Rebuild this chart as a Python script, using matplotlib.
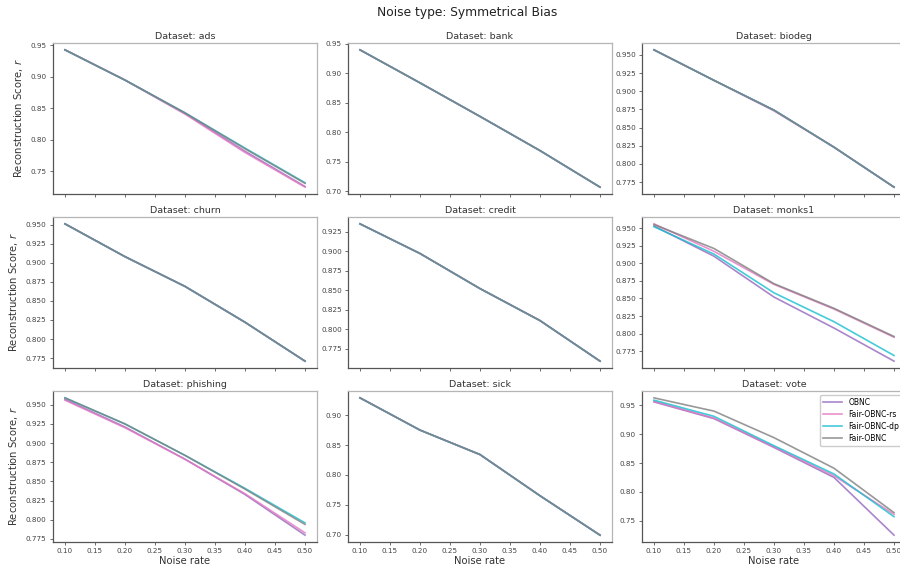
import numpy as np
import matplotlib.pyplot as plt

noise_rates = [0.1, 0.2, 0.3, 0.4, 0.5]
datasets = ['ads', 'bank', 'biodeg', 'churn', 'credit', 'monks1', 'phishing', 'sick', 'vote']
methods = ['OBNC', 'Fair-OBNC-rs', 'Fair-OBNC-dp', 'Fair-OBNC']
colors = ['tab:purple', 'tab:pink', 'tab:cyan', 'tab:gray']

obnc = {
    'ads':      [0.943, 0.895, 0.842, 0.782, 0.726],
    'bank':     [0.940, 0.884, 0.827, 0.769, 0.707],
    'biodeg':   [0.957, 0.915, 0.874, 0.823, 0.768],
    'churn':    [0.951, 0.908, 0.869, 0.822, 0.771],
    'credit':   [0.935, 0.897, 0.852, 0.811, 0.759],
    'monks1':   [0.953, 0.910, 0.852, 0.808, 0.761],
    'phishing': [0.957, 0.921, 0.879, 0.833, 0.780],
    'sick':     [0.929, 0.875, 0.834, 0.765, 0.699],
    'vote':     [0.956, 0.927, 0.877, 0.825, 0.725],
}
fair_obnc_rs = {
    'ads':      [0.943, 0.895, 0.841, 0.780, 0.725],
    'bank':     [0.940, 0.884, 0.827, 0.769, 0.707],
    'biodeg':   [0.957, 0.915, 0.873, 0.823, 0.768],
    'churn':    [0.951, 0.908, 0.869, 0.822, 0.771],
    'credit':   [0.935, 0.897, 0.852, 0.811, 0.759],
    'monks1':   [0.956, 0.917, 0.870, 0.835, 0.795],
    'phishing': [0.956, 0.920, 0.879, 0.834, 0.783],
    'sick':     [0.929, 0.875, 0.834, 0.765, 0.699],
    'vote':     [0.957, 0.928, 0.878, 0.828, 0.761],
}
fair_obnc_dp = {
    'ads':      [0.943, 0.895, 0.843, 0.787, 0.732],
    'bank':     [0.940, 0.884, 0.827, 0.769, 0.707],
    'biodeg':   [0.957, 0.915, 0.874, 0.823, 0.768],
    'churn':    [0.951, 0.908, 0.869, 0.822, 0.771],
    'credit':   [0.935, 0.897, 0.852, 0.811, 0.759],
    'monks1':   [0.952, 0.913, 0.858, 0.817, 0.769],
    'phishing': [0.959, 0.925, 0.884, 0.841, 0.796],
    'sick':     [0.929, 0.875, 0.834, 0.765, 0.699],
    'vote':     [0.959, 0.931, 0.880, 0.831, 0.757],
}
fair_obnc = {
    'ads':      [0.943, 0.895, 0.843, 0.786, 0.731],
    'bank':     [0.940, 0.884, 0.827, 0.769, 0.707],
    'biodeg':   [0.957, 0.915, 0.874, 0.823, 0.768],
    'churn':    [0.951, 0.908, 0.869, 0.822, 0.771],
    'credit':   [0.935, 0.897, 0.852, 0.811, 0.759],
    'monks1':   [0.955, 0.921, 0.871, 0.836, 0.796],
    'phishing': [0.959, 0.925, 0.884, 0.840, 0.794],
    'sick':     [0.929, 0.875, 0.834, 0.765, 0.699],
    'vote':     [0.963, 0.940, 0.894, 0.841, 0.764],
}
results = [obnc, fair_obnc_rs, fair_obnc_dp, fair_obnc]

fig, axes = plt.subplots(3, 3, sharex=True, figsize=(9, 5.72), dpi=100)

# manual grid, the last column runs slightly past the canvas edge
lefts = [53, 348, 642]
tops = [43, 217, 391]
w, h = 264, 151
W, H = 900, 572

for k, name in enumerate(datasets):
    r, c = divmod(k, 3)
    ax = axes[r, c]
    ax.set_position([lefts[c] / W, 1 - (tops[r] + h) / H, w / W, h / H])
    for res, m, col in zip(results, methods, colors):
        ax.plot(noise_rates, res[name], color=col, lw=1.2, alpha=0.8, label=m)
    ax.set_title('Dataset: ' + name, fontsize=6.8, color='#333333', pad=3)
    ax.tick_params(labelsize=5.2, labelcolor='#444444', color='#555555', length=2.5, width=0.6, pad=2)
    for s in ['left', 'bottom']:
        ax.spines[s].set_color('#555555')
    for s in ['top', 'right']:
        ax.spines[s].set_color('#b5b5b5')
    for s in ax.spines.values():
        s.set_linewidth(0.9)
    if c == 0:
        ax.set_ylabel('Reconstruction Score, $r$', fontsize=7.2, color='#333333', labelpad=4)
    if r == 2:
        ax.set_xlabel('Noise rate', fontsize=7.2, color='#333333', labelpad=1)

axes[0, 0].set_xticks(np.arange(0.1, 0.501, 0.05))
axes[2, 2].legend(loc='upper right', fontsize=5.5, frameon=True, framealpha=1, edgecolor='#cccccc',
                  handlelength=2.5, borderpad=0.4, labelspacing=0.4)

fig.suptitle('Noise type: Symmetrical Bias', x=467 / W, y=1 - 6 / H, va='top', fontsize=8.8, color='#222222')

fig.savefig('out.png', dpi=100)
